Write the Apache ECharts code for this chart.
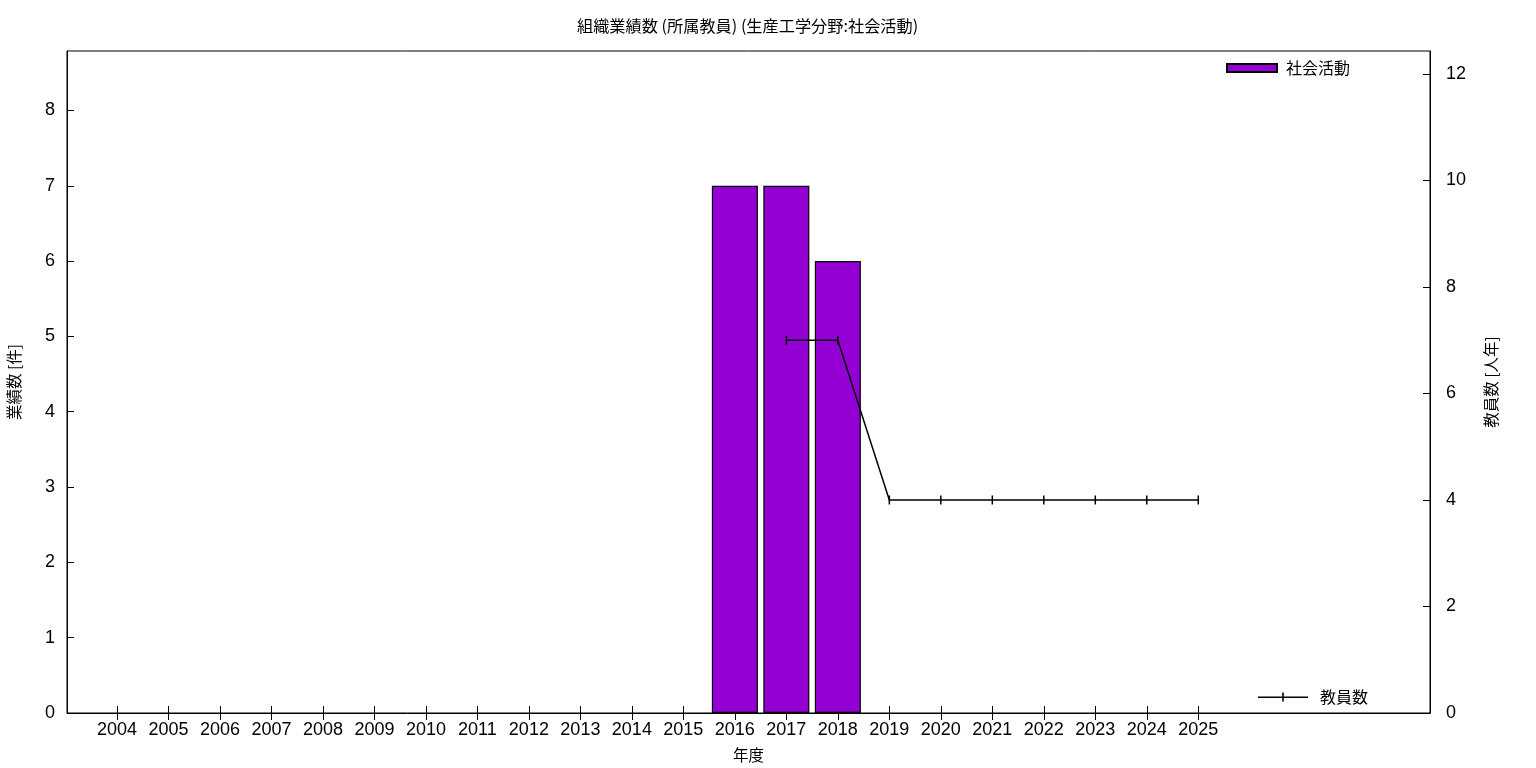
<!DOCTYPE html>
<html><head><meta charset="utf-8">
<script src="https://cdn.jsdelivr.net/npm/echarts@6/dist/echarts.min.js"></script>
<style>html,body{margin:0;padding:0;background:#fff}#c{width:1536px;height:768px}</style>
</head><body><div id="c"></div>
<script>
const years = [2004,2005,2006,2007,2008,2009,2010,2011,2012,2013,2014,2015,2016,2017,2018,2019,2020,2021,2022,2023,2024,2025];
const activities = [0,0,0,0,0,0,0,0,0,0,0,0,7,7,6,0,0,0,0,0,0,0];
const staffYears = [2017,2018,2019,2020,2021,2022,2023,2024,2025];
const staffCounts = [7,7,4,4,4,4,4,4,4];
const leftTicks = [0,1,2,3,4,5,6,7,8];
const rightTicks = [0,2,4,6,8,10,12];

const FONT = 'Liberation Sans, Noto Sans CJK JP, sans-serif';
const CJK = 'Noto Sans CJK JP, sans-serif';
const chart = echarts.init(document.getElementById('c'), null, {renderer:'canvas'});
const barData = years.map((y,i)=>[y,activities[i]]).filter(d=>d[1]>0);
const lineData = staffYears.map((y,i)=>[y,staffCounts[i]]);
const xMin = 2003.03, xMax = 2029.5;
const plain = v => String(v);
const plusIcon = 'path://M0,4 L50,4 L50,5.5 L0,5.5 Z M24.2,0 L25.8,0 L25.8,9 L24.2,9 Z';
chart.setOption({
  animation:false,
  backgroundColor:'#fff',
  title:{text:'組織業績数 (所属教員) (生産工学分野:社会活動)',left:572,top:13,
    textStyle:{fontFamily:CJK,fontSize:16.2,fontWeight:'normal',color:'#000'}},
  grid:{left:67,top:51,right:106,bottom:55,show:true,borderColor:'#000',borderWidth:1,
    containLabel:false,outerBoundsMode:'none'},
  legend:[
    {data:[{name:'社会活動',icon:'rect'}],left:1221,top:55,itemWidth:50,itemHeight:8,itemGap:10,
      textStyle:{fontFamily:CJK,fontSize:16,color:'#000',padding:[0,0,0,4]}},
    {data:[{name:'教員数',icon:plusIcon}],left:1253,top:684,itemWidth:50,itemHeight:9,
      itemStyle:{color:'#000',borderWidth:0},
      textStyle:{fontFamily:CJK,fontSize:16,color:'#000',padding:[0,0,0,7]}}
  ],
  xAxis:[
    {type:'value',min:xMin,max:xMax,position:'bottom',
      name:'年度',nameLocation:'middle',nameGap:34,
      nameTextStyle:{fontFamily:CJK,fontSize:15.5,color:'#000'},
      axisLine:{show:true,lineStyle:{color:'#000'}},
      axisTick:{show:true,inside:true,length:7,lineStyle:{color:'#000'},customValues:years},
      axisLabel:{show:true,customValues:years,formatter:plain,margin:8,fontFamily:FONT,fontSize:18,color:'#000'},
      splitLine:{show:false}},
    {type:'value',min:xMin,max:xMax,position:'top',
      axisLine:{show:false},
      axisTick:{show:true,inside:true,length:7,lineStyle:{color:'#000'},customValues:years},
      axisLabel:{show:false},splitLine:{show:false}}
  ],
  yAxis:[
    {type:'value',min:0,max:8.79,position:'left',
      name:'業績数 [件]',nameLocation:'middle',nameGap:45,nameRotate:90,
      nameTextStyle:{fontFamily:CJK,fontSize:15.5,color:'#000'},
      axisLine:{show:true,lineStyle:{color:'#000'}},
      axisTick:{show:true,inside:true,length:7,lineStyle:{color:'#000'},customValues:leftTicks},
      axisLabel:{customValues:leftTicks,formatter:plain,margin:12,fontFamily:FONT,fontSize:18,color:'#000'},
      splitLine:{show:false}},
    {type:'value',min:0,max:12.43,position:'right',
      name:'教員数 [人年]',nameLocation:'middle',nameGap:53,nameRotate:90,
      nameTextStyle:{fontFamily:CJK,fontSize:15.5,color:'#000'},
      axisLine:{show:true,lineStyle:{color:'#000'}},
      axisTick:{show:true,inside:true,length:7,lineStyle:{color:'#000'},customValues:rightTicks},
      axisLabel:{customValues:rightTicks,formatter:plain,margin:16,fontFamily:FONT,fontSize:18,color:'#000'},
      splitLine:{show:false}}
  ],
  series:[
    {name:'社会活動',type:'bar',xAxisIndex:0,yAxisIndex:0,data:barData,barWidth:46,
      itemStyle:{color:'#9400d3',borderColor:'#000',borderWidth:1.2}},
    {name:'教員数',type:'line',xAxisIndex:0,yAxisIndex:1,data:lineData,
      symbol:'rect',symbolSize:[1.5,9],
      lineStyle:{color:'#000',width:1.5},
      itemStyle:{color:'#000'}}
  ]
});
</script></body></html>
